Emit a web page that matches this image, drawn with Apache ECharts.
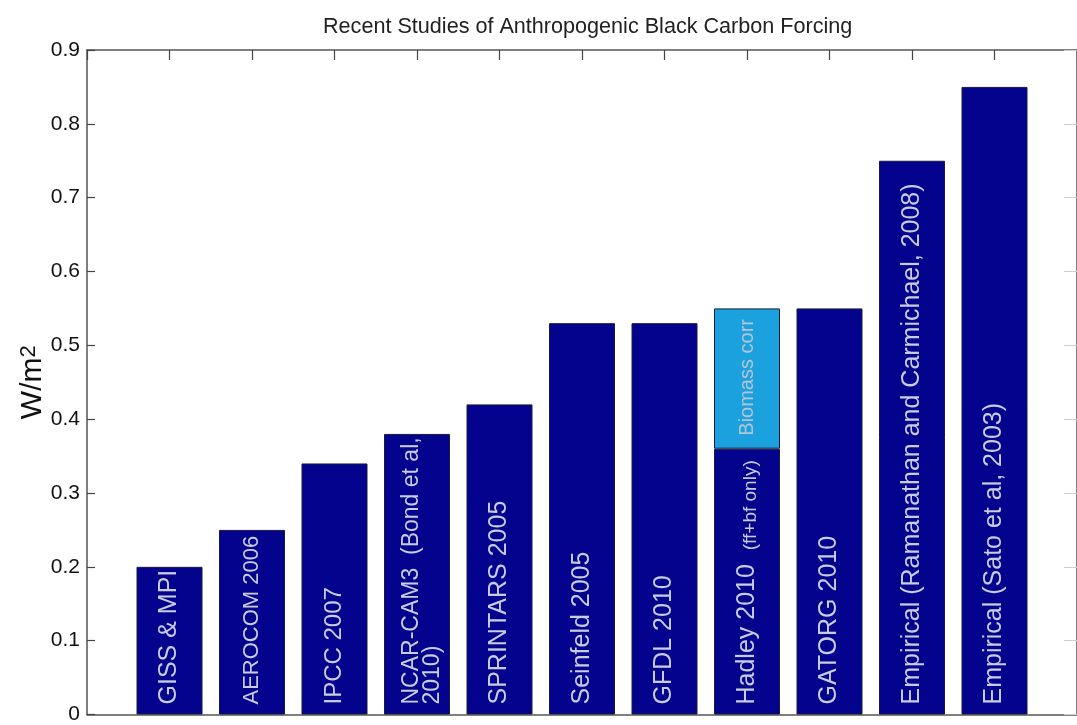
<!DOCTYPE html>
<html>
<head>
<meta charset="utf-8">
<script src="https://cdn.jsdelivr.net/npm/echarts@6/dist/echarts.min.js"></script>
<style>
html,body{margin:0;padding:0;background:#fff;}
#chart{width:1077px;height:725px;}
</style>
</head>
<body>
<div id="chart"></div>
<script>
// ---- data ----
const studies = ['GISS & MPI', 'AEROCOM 2006', 'IPCC 2007', 'NCAR-CAM3  (Bond et al,\n2010)', 'SPRINTARS 2005',
  'Seinfeld 2005', 'GFDL 2010', 'Hadley 2010', 'GATORG 2010',
  'Empirical (Ramanathan and Carmichael, 2008)', 'Empirical (Sato et al, 2003)'];
const studyNotes = ['', '', '', '', '', '', '', '(ff+bf only)', '', '', ''];
const forcing = [0.20, 0.25, 0.34, 0.38, 0.42, 0.53, 0.53, 0.36, 0.55, 0.75, 0.85];
const biomassCorr = [null, null, null, null, null, null, null, 0.19, null, null, null];
const biomassLabel = 'Biomass corr';
const yMin = 0, yMax = 0.9, yStep = 0.1;
const titleText = 'Recent Studies of Anthropogenic Black Carbon Forcing';

// ---- build ----
const cats = [''].concat(studies.map((s, i) => 'c' + i)).concat(['']);
const pad = arr => ['-'].concat(arr.map(v => (v === null ? '-' : v))).concat(['-']);

// per-bar label style tweaks (style only)
const labelStyleTweaks = {
  1: { fontSize: 22 },
  2: { fontSize: 24 },
  3: { fontSize: 23, lineHeight: 21, offset: [0, 5] }
};

const labelColor = '#c9cbe0';
const navyData = pad(forcing).map((v, i) => {
  if (v === '-') return v;
  const idx = i - 1;
  const item = { value: v };
  if (labelStyleTweaks[idx]) item.label = labelStyleTweaks[idx];
  return item;
});

const chart = echarts.init(document.getElementById('chart'), null, { renderer: 'canvas' });
const font = 'Liberation Sans, Arial, Helvetica, sans-serif';
chart.setOption({
  animation: false,
  backgroundColor: '#fff',
  title: {
    text: titleText,
    left: 318, top: 11,
    textStyle: { fontSize: 21.6, fontWeight: 'normal', color: '#222', fontFamily: font }
  },
  grid: { left: 87, top: 50, width: 1000, height: 666 },
  xAxis: [
    {
      type: 'category', data: cats, boundaryGap: false, position: 'bottom',
      axisLine: { onZero: false, lineStyle: { color: '#555', width: 1.5 } },
      axisTick: { show: false }, axisLabel: { show: false }, splitLine: { show: false }
    },
    {
      type: 'category', data: cats, boundaryGap: false, position: 'top',
      axisLine: { onZero: false, lineStyle: { color: '#555', width: 1.5 } },
      axisTick: { show: true, inside: true, length: 10, lineStyle: { color: '#444', width: 1.2 } },
      axisLabel: { show: false }, splitLine: { show: false }
    }
  ],
  yAxis: [
    {
      type: 'value', min: yMin, max: yMax, interval: yStep, position: 'left',
      name: 'W/m{sup|2}', nameLocation: 'middle', nameRotate: 90, nameGap: 39,
      nameMoveOverlap: false,
      nameTextStyle: {
        fontSize: 30, color: '#111', fontFamily: font,
        rich: { sup: { fontSize: 22, verticalAlign: 'top', lineHeight: 16, color: '#111', fontFamily: font } }
      },
      axisLine: { show: true, onZero: false, lineStyle: { color: '#555', width: 1.5 } },
      axisTick: { show: true, inside: true, length: 8, lineStyle: { color: '#444', width: 1.2 } },
      axisLabel: { fontSize: 21, color: '#111', margin: 7, fontFamily: font,
        formatter: v => (v === 0 ? '0' : v.toFixed(1)) },
      splitLine: { show: false }
    },
    {
      type: 'value', min: yMin, max: yMax, interval: yStep, position: 'right',
      axisLine: { show: true, onZero: false, lineStyle: { color: '#555', width: 1.5 } },
      axisTick: { show: true, inside: true, length: 13, lineStyle: { color: '#ccc', width: 1 } },
      axisLabel: { show: false }, splitLine: { show: false }
    }
  ],
  series: [
    {
      name: 'Forcing', type: 'bar', stack: 'bc', barWidth: '80%',
      data: navyData,
      itemStyle: { color: '#03038d', borderColor: '#1a1a40', borderWidth: 1 },
      label: {
        show: true, position: 'insideBottom', rotate: 90, align: 'left', verticalAlign: 'middle',
        distance: 10, fontSize: 25, color: labelColor, fontFamily: font,
        formatter: p => {
          const idx = p.dataIndex - 1;
          const note = studyNotes[idx];
          return note ? '{m|' + studies[idx] + '}  {s|' + note + '}' : studies[idx];
        },
        rich: {
          m: { fontSize: 25, lineHeight: 26, color: labelColor, fontFamily: font, verticalAlign: 'bottom' },
          s: { fontSize: 19, lineHeight: 26, color: labelColor, fontFamily: font, verticalAlign: 'bottom' }
        }
      }
    },
    {
      name: biomassLabel, type: 'bar', stack: 'bc', barWidth: '80%',
      data: pad(biomassCorr),
      itemStyle: { color: '#1ba1dd', borderColor: '#1a1a40', borderWidth: 1 },
      label: {
        show: true, position: 'insideBottom', rotate: 90, align: 'left', verticalAlign: 'middle',
        distance: 13, fontSize: 20, color: '#b4c6d6', fontFamily: font,
        formatter: () => biomassLabel
      }
    }
  ]
});
</script>
</body>
</html>
